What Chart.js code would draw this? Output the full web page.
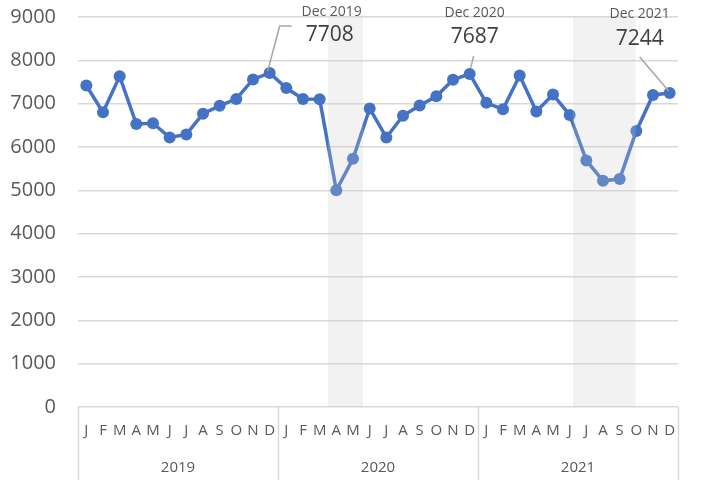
<!DOCTYPE html>
<html>
<head>
<meta charset="utf-8">
<script src="https://cdn.jsdelivr.net/npm/chart.js@4.4.1/dist/chart.umd.min.js"></script>
<style>
  html, body { margin: 0; padding: 0; background: #fff; }
  #wrap { width: 705px; height: 480px; }
</style>
</head>
<body>
<div id="wrap"><canvas id="lineChart"></canvas></div>
<script>
// chart data
const monthLetters = ['J', 'F', 'M', 'A', 'M', 'J', 'J', 'A', 'S', 'O', 'N', 'D'];
const years = ['2019', '2020', '2021'];
const monthLabels = [...monthLetters, ...monthLetters, ...monthLetters];
const values = [
    7420, 6800, 7630, 6530, 6550, 6220, 6290, 6770, 6950, 7110, 7560, 7708,
    7360, 7110, 7100, 5000, 5730, 6890, 6220, 6720, 6960, 7170, 7550, 7687,
    7020, 6870, 7650, 6820, 7210, 6740, 5690, 5220, 5260, 6370, 7200, 7244
];
const yTicks = [0, 1000, 2000, 3000, 4000, 5000, 6000, 7000, 8000, 9000];
// shaded periods, in category units (start, end)
const bandStart = [14.5, 29.2];
const bandEnd = [16.6, 32.95];
// callouts: index of point and its name
const calloutIndex = [11, 23, 35];
const calloutName = ['Dec 2019', 'Dec 2020', 'Dec 2021'];

const FONT = '"Open Sans", sans-serif';
const GRID = '#d9d9d9';
const TEXT = '#595959';

const extrasPlugin = {
    id: 'extras',
    afterDatasetsDraw(chart) {
        const { ctx, chartArea, scales } = chart;
        const x = scales.x;
        ctx.save();
        ctx.fillStyle = 'rgba(200, 200, 200, 0.24)';
        for (let i = 0; i < bandStart.length; i++) {
            const x1 = x.getPixelForValue(bandStart[i]);
            const x2 = x.getPixelForValue(bandEnd[i]);
            ctx.fillRect(x1, chartArea.top, x2 - x1, chartArea.bottom - chartArea.top);
        }
        ctx.restore();
    },
    afterDraw(chart) {
        const { ctx, chartArea, scales } = chart;
        const x = scales.x;
        ctx.save();

        // year separators in the axis area
        ctx.strokeStyle = GRID;
        ctx.lineWidth = 1.5;
        [-0.5, 11.5, 23.5, 35.5].forEach(v => {
            const px = Math.round(x.getPixelForValue(v)) + 0.5;
            ctx.beginPath();
            ctx.moveTo(px, chartArea.bottom);
            ctx.lineTo(px, chart.height);
            ctx.stroke();
        });

        // callouts
        const meta = chart.getDatasetMeta(0);
        const offsets = [
            { name: [62, -61], val: [60, -38], lead: [[-2, -2], [10, -47], [22, -47]] },
            { name: [5, -61], val: [5, -37], lead: [[1, -6], [4, -18]] },
            { name: [-30, -79], val: [-30, -54], lead: [[-1, -2], [-30, -36]] }
        ];
        calloutIndex.forEach((idx, k) => {
            const pt = meta.data[idx];
            const o = offsets[k];
            ctx.strokeStyle = '#a6a6a6';
            ctx.lineWidth = 1.5;
            ctx.beginPath();
            o.lead.forEach((p, j) => {
                if (j === 0) ctx.moveTo(pt.x + p[0], pt.y + p[1]);
                else ctx.lineTo(pt.x + p[0], pt.y + p[1]);
            });
            ctx.stroke();

            ctx.textAlign = 'center';
            ctx.textBaseline = 'middle';
            ctx.fillStyle = TEXT;
            ctx.font = '14px ' + FONT;
            ctx.fillText(calloutName[k], pt.x + o.name[0], pt.y + o.name[1]);
            ctx.fillStyle = '#404040';
            ctx.font = '21px ' + FONT;
            ctx.fillText(String(values[idx]), pt.x + o.val[0], pt.y + o.val[1]);
        });
        ctx.restore();
    }
};

const ctx = document.getElementById('lineChart').getContext('2d');
const lineChart = new Chart(ctx, {
    type: 'line',
    data: {
        labels: monthLabels,
        datasets: [{
            data: values,
            borderColor: '#4472C4',
            borderWidth: 3.5,
            pointRadius: 6,
            pointBorderWidth: 0,
            pointBackgroundColor: '#4472C4',
            tension: 0,
            fill: false
        }]
    },
    options: {
        responsive: true,
        maintainAspectRatio: false,
        animation: false,
        layout: { padding: { top: 17, right: 27, left: 0, bottom: 0 } },
        plugins: {
            legend: { display: false },
            tooltip: { enabled: false }
        },
        scales: {
            y: {
                min: 0,
                max: 9000,
                afterBuildTicks: scale => { scale.ticks = yTicks.map(v => ({ value: v })); },
                afterFit: scale => { scale.width = 78; },
                ticks: {
                    font: { family: FONT, size: 20 }, color: TEXT, padding: 0,
                    callback: v => String(v)
                },
                grid: { color: GRID, lineWidth: 1.5, drawTicks: true, tickLength: 22, tickColor: 'rgba(0,0,0,0)' },
                border: { display: false }
            },
            x: {
                offset: true,
                afterFit: scale => { scale.height = 43; },
                ticks: { font: { family: FONT, size: 15 }, color: TEXT, padding: 15, autoSkip: false, maxRotation: 0 },
                grid: { display: false, drawTicks: false, offset: true },
                border: { display: false }
            },
            x2: {
                type: 'category',
                position: 'bottom',
                offset: true,
                labels: years,
                afterFit: scale => { scale.height = 30; },
                ticks: { font: { family: FONT, size: 15 }, color: TEXT, padding: 9, maxRotation: 0 },
                grid: { display: false, drawTicks: false, offset: true },
                border: { display: false }
            }
        }
    },
    plugins: [extrasPlugin]
});
</script>
</body>
</html>
